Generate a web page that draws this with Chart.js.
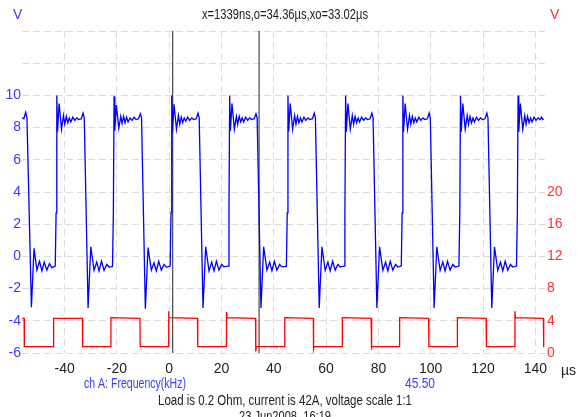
<!DOCTYPE html>
<html>
<head>
<meta charset="utf-8">
<script src="https://cdn.jsdelivr.net/npm/chart.js@4/dist/chart.umd.min.js"></script>
<style>
  html, body { margin: 0; padding: 0; background: #fff; }
  canvas { display: block; }
</style>
</head>
<body>
<canvas id="scope" width="577" height="417"></canvas>
<script>
// scope capture, two channels, time in µs

const timeTicks = [-40, -20, 0, 20, 40, 60, 80, 100, 120, 140];
const cursorX = 1.339;   // x cursor, µs
const cursorO = 34.36;   // o cursor, µs

// ch A (blue, left axis, V)
const chA = [
  [-56.2, 8.6], [-55.6, 8.55], [-54.9, 8.95], [-54.4, 8.6], [-52.7, -3.15], [-51.7, 0.5], [-50.6, -0.85],
  [-49.6, -0.3], [-48.7, -0.9], [-47.8, -0.35], [-46.8, -0.85], [-45.8, -0.45], [-44.9, -0.7],
  [-43.59, -0.6], [-43.26, 2.7], [-42.99, 10.0], [-42.72, 7.75], [-42.11, 9.5], [-41.19, 7.9], [-40.43, 8.75],
  [-39.93, 8.2], [-39.36, 8.7], [-38.79, 8.3], [-38.21, 8.6], [-37.64, 8.35], [-36.88, 8.65], [-36.11, 8.45],
  [-35.35, 8.6], [-34.58, 8.5], [-33.63, 8.55], [-32.94, 8.9], [-32.49, 8.6], [-31.03, -3.2], [-30.0, 0.6],
  [-28.74, -0.87], [-27.71, -0.35], [-26.83, -0.91], [-25.91, -0.29], [-24.92, -0.87], [-23.89, -0.5], [-23.01, -0.66],
  [-21.69, -0.62], [-21.36, 2.7], [-21.09, 9.95], [-20.82, 7.8], [-20.21, 9.4], [-19.29, 7.95], [-18.53, 8.7],
  [-18.03, 8.25], [-17.46, 8.7], [-16.89, 8.3], [-16.31, 8.65], [-15.74, 8.35], [-14.98, 8.6], [-14.21, 8.45],
  [-13.45, 8.65], [-12.68, 8.5], [-11.73, 8.55], [-11.04, 8.85], [-10.59, 8.6], [-9.13, -3.25], [-8.10, 0.55],
  [-6.84, -0.85], [-5.81, -0.4], [-4.93, -0.9], [-4.01, -0.3], [-3.02, -0.85], [-1.99, -0.5], [-1.11, -0.68],
  [0.36, -0.6], [0.69, 2.75], [0.96, 10.0], [1.23, 7.7], [1.84, 9.45], [2.76, 7.9], [3.52, 8.75],
  [4.02, 8.2], [4.59, 8.65], [5.16, 8.3], [5.74, 8.6], [6.31, 8.4], [7.07, 8.65], [7.84, 8.45],
  [8.60, 8.6], [9.37, 8.5], [10.32, 8.55], [11.01, 8.9], [11.46, 8.6], [12.92, -3.2], [13.95, 0.6],
  [15.21, -0.9], [16.24, -0.35], [17.12, -0.9], [18.04, -0.3], [19.03, -0.85], [20.06, -0.5], [20.94, -0.65],
  [22.52, -0.6], [22.85, 2.7], [23.12, 10.0], [23.39, 7.8], [24.0, 9.5], [24.92, 7.9], [25.68, 8.7],
  [26.18, 8.2], [26.75, 8.7], [27.32, 8.35], [27.9, 8.6], [28.47, 8.35], [29.23, 8.65], [30.0, 8.45],
  [30.76, 8.6], [31.53, 8.5], [32.48, 8.55], [33.17, 8.85], [33.62, 8.6], [35.08, -3.2], [36.11, 0.6],
  [37.37, -0.85], [38.4, -0.35], [39.28, -0.9], [40.2, -0.3], [41.19, -0.85], [42.22, -0.5], [43.1, -0.65],
  [44.8, -0.62], [45.13, 2.7], [45.4, 10.0], [45.67, 7.75], [46.28, 9.5], [47.2, 7.9], [47.96, 8.75],
  [48.46, 8.2], [49.03, 8.7], [49.6, 8.3], [50.18, 8.6], [50.75, 8.35], [51.51, 8.65], [52.28, 8.45],
  [53.04, 8.6], [53.81, 8.5], [54.76, 8.55], [55.45, 8.9], [55.9, 8.6], [57.36, -3.2], [58.39, 0.6],
  [59.65, -0.87], [60.68, -0.35], [61.56, -0.9], [62.48, -0.3], [63.47, -0.85], [64.5, -0.5], [65.38, -0.66],
  [66.85, -0.6], [67.18, 2.7], [67.45, 10.0], [67.72, 7.75], [68.33, 9.5], [69.25, 7.9], [70.01, 8.75],
  [70.51, 8.2], [71.08, 8.7], [71.65, 8.3], [72.23, 8.6], [72.8, 8.35], [73.56, 8.65], [74.33, 8.45],
  [75.09, 8.6], [75.86, 8.5], [76.81, 8.55], [77.5, 8.9], [77.95, 8.6], [79.41, -3.2], [80.44, 0.6],
  [81.7, -0.87], [82.73, -0.35], [83.61, -0.9], [84.53, -0.3], [85.52, -0.85], [86.55, -0.5], [87.43, -0.66],
  [88.74, -0.6], [89.07, 2.7], [89.34, 10.0], [89.61, 7.75], [90.22, 9.5], [91.14, 7.9], [91.9, 8.75],
  [92.4, 8.2], [92.97, 8.7], [93.54, 8.3], [94.12, 8.6], [94.69, 8.35], [95.45, 8.65], [96.22, 8.45],
  [96.98, 8.6], [97.75, 8.5], [98.7, 8.55], [99.39, 8.9], [99.84, 8.6], [101.3, -3.2], [102.33, 0.6],
  [103.59, -0.87], [104.62, -0.35], [105.5, -0.9], [106.42, -0.3], [107.41, -0.85], [108.44, -0.5], [109.32, -0.66],
  [110.79, -0.6], [111.12, 2.7], [111.39, 10.0], [111.66, 7.75], [112.27, 9.5], [113.19, 7.9], [113.95, 8.75],
  [114.45, 8.2], [115.02, 8.7], [115.59, 8.3], [116.17, 8.6], [116.74, 8.35], [117.5, 8.65], [118.27, 8.45],
  [119.03, 8.6], [119.8, 8.5], [120.75, 8.55], [121.44, 8.9], [121.89, 8.6], [123.35, -3.2], [124.38, 0.6],
  [125.64, -0.87], [126.67, -0.35], [127.55, -0.9], [128.47, -0.3], [129.46, -0.85], [130.49, -0.5], [131.37, -0.66],
  [132.8, -0.6], [133.13, 2.7], [133.4, 10.0], [133.67, 7.75], [134.28, 9.5], [135.2, 7.9], [135.96, 8.75],
  [136.46, 8.2], [137.03, 8.7], [137.6, 8.3], [138.18, 8.6], [138.75, 8.35], [139.51, 8.65], [140.28, 8.45],
  [141.04, 8.6], [141.81, 8.5], [142.4, 8.65], [142.8, 8.5], [143.2, 8.55]
];

// ch B (red, right axis, V)
const chB = [
  [-56.2, 4.3], [-55.5, 4.3], [-55.4, 0.8], [-44.3, 0.8], [-44.2, 4.3], [-33.2, 4.3], [-33.1, 0.8],
  [-22.4, 0.8], [-22.3, 4.4], [-11.2, 4.3], [-11.1, 0.8], [-0.4, 0.8], [-0.3, 5.2], [-0.1, 4.4],
  [10.8, 4.3], [10.9, 0.8], [21.8, 0.8], [21.9, 5.1], [22.1, 4.4], [33.0, 4.3], [33.1, 0.2], [33.3, 0.8],
  [44.1, 0.8], [44.2, 4.4], [55.1, 4.3], [55.2, 0.5], [55.4, 0.8], [66.1, 0.8], [66.2, 4.4],
  [77.2, 4.3], [77.3, 0.4], [77.5, 0.8], [88.0, 0.8], [88.1, 4.4], [99.2, 4.3], [99.3, 0.8],
  [110.1, 0.8], [110.2, 4.4], [121.2, 4.3], [121.3, 0.8], [132.1, 0.8], [132.2, 5.2], [132.4, 4.4],
  [143.1, 4.3], [143.2, 0.7]
];

const toXY = (pts) => pts.map(([x, y]) => ({ x, y }));
const FONT = "'Liberation Sans Narrow', 'Liberation Sans', Arial, sans-serif";

const labels = {
  id: "scopeLabels",
  afterDraw(chart) {
    const ctx = chart.ctx;
    ctx.save();
    ctx.font = "14px " + FONT;
    ctx.textBaseline = "alphabetic";
    const put = (txt, x, y, color, align, maxW) => {
      ctx.fillStyle = color;
      ctx.textAlign = align;
      if (maxW) ctx.fillText(txt, x, y, maxW); else ctx.fillText(txt, x, y);
    };
    put("V", 13, 19, "#3a3aff", "left");
    put("V", 550, 19, "#ff3030", "left");
    put("x=1339ns,o=34.36µs,xo=33.02µs", 285, 19, "#222", "center", 166);
    put("µs", 561, 375, "#222", "left");
    put("ch A: Frequency(kHz)", 84, 388, "#3a3aff", "left", 102);
    put("45.50", 405, 388, "#3a3aff", "left", 30);
    put("Load is 0.2 Ohm, current is 42A, voltage scale 1:1", 285, 405, "#222", "center", 254);
    put("23 Jun2008  16:19", 285, 421, "#222", "center", 92);
    ctx.restore();
  }
};

new Chart(document.getElementById("scope"), {
  type: "scatter",
  data: {
    datasets: [
      { label: "ch A", data: toXY(chA), yAxisID: "y", showLine: true, borderColor: "#0000ff", borderWidth: 1.3, pointRadius: 0, tension: 0 },
      { label: "ch B", data: toXY(chB), yAxisID: "y2", showLine: true, borderColor: "#ff0000", borderWidth: 1.3, pointRadius: 0, tension: 0 },
      { label: "x", data: [{ x: cursorX, y: -6 }, { x: cursorX, y: 14 }], yAxisID: "y", showLine: true, borderColor: "#222", borderWidth: 1, pointRadius: 0 },
      { label: "o", data: [{ x: cursorO, y: -6 }, { x: cursorO, y: 14 }], yAxisID: "y", showLine: true, borderColor: "#222", borderWidth: 1, pointRadius: 0 }
    ]
  },
  options: {
    responsive: false,
    animation: false,
    devicePixelRatio: 1,
    layout: { padding: { top: 31, left: 0, right: 0, bottom: 0 } },
    plugins: { legend: { display: false }, tooltip: { enabled: false } },
    scales: {
      x: {
        type: "linear", min: -56.3, max: 143.7,
        afterBuildTicks: (s) => { s.ticks = timeTicks.map(v => ({ value: v })); },
        afterFit: (s) => { s.height = 64; },
        grid: { color: "#dcdcdc", lineWidth: 1, drawTicks: false },
        border: { display: false, dash: [7, 4] },
        ticks: { color: "#222", padding: 8, maxRotation: 0, font: { family: FONT, size: 14 } }
      },
      y: {
        position: "left", min: -6, max: 14,
        afterFit: (s) => { s.width = 22; },
        grid: { color: "#dcdcdc", lineWidth: 1, drawTicks: false },
        border: { display: false, dash: [7, 4] },
        ticks: { stepSize: 2, color: "#3a3aff", padding: 1, font: { family: FONT, size: 14 },
          callback: (v) => (v > 10 ? "" : v) }
      },
      y2: {
        position: "right", min: 0, max: 40,
        afterFit: (s) => { s.width = 32; },
        grid: { drawOnChartArea: false, drawTicks: false },
        border: { display: false },
        ticks: { stepSize: 4, color: "#ff3030", padding: 2, font: { family: FONT, size: 14 },
          callback: (v) => (v > 20 ? "" : v) }
      }
    }
  },
  plugins: [labels]
});
</script>
</body>
</html>
